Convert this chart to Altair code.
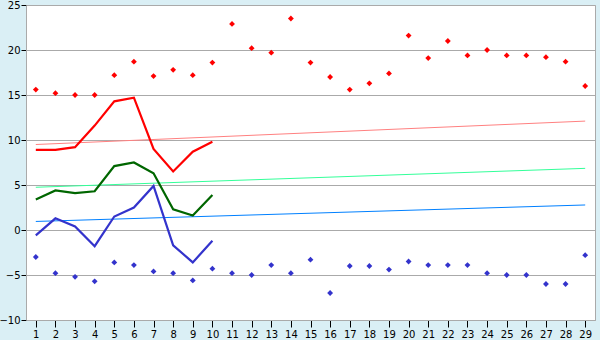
import altair as alt
import pandas as pd

days = list(range(1, 30))
tmax = [15.6, 15.2, 15.0, 15.0, 17.2, 18.7, 17.1, 17.8, 17.2, 18.6,
        22.9, 20.2, 19.7, 23.5, 18.6, 17.0, 15.6, 16.3, 17.4, 21.6,
        19.1, 21.0, 19.4, 20.0, 19.4, 19.4, 19.2, 18.7, 16.0]
tmin = [-3.0, -4.8, -5.2, -5.7, -3.6, -3.9, -4.6, -4.8, -5.6, -4.3,
        -4.8, -5.0, -3.9, -4.8, -3.3, -7.0, -4.0, -4.0, -4.4, -3.5,
        -3.9, -3.9, -3.9, -4.8, -5.0, -5.0, -6.0, -6.0, -2.8]
line_days = list(range(1, 11))
line_max = [8.9, 8.9, 9.2, 11.6, 14.3, 14.7, 9.0, 6.5, 8.7, 9.8]
line_mean = [3.4, 4.4, 4.1, 4.3, 7.1, 7.5, 6.3, 2.3, 1.6, 3.9]
line_min = [-0.6, 1.3, 0.4, -1.8, 1.5, 2.5, 4.9, -1.7, -3.6, -1.2]
trend_days = [1, 29]
trend_max = [9.5, 12.1]
trend_mean = [4.75, 6.85]
trend_min = [0.95, 2.78]
y_ticks = [-10, -5, 0, 5, 10, 15, 20, 25]

W, H = 569, 315
xs = alt.Scale(domain=[0.5, 29.5], nice=False, zero=False)
ys = alt.Scale(domain=[-10, 25], nice=False, zero=False)

xaxis = alt.Axis(values=days, title=None, grid=False, domainColor="#aaaaaa",
                 tickColor="#000000", tickSize=7, labelFontSize=10,
                 labelFont="DejaVu Sans", labelColor="#000000", labelPadding=2,
                 labelFlush=False, labelOverlap=False, labelBound=False)
yaxis = alt.Axis(values=y_ticks, title=None, grid=True,
                 gridColor="#aaaaaa", gridOpacity=1, domainColor="#aaaaaa",
                 tickColor="#000000", tickSize=5, labelFontSize=10,
                 labelFont="DejaVu Sans", labelColor="#000000", labelPadding=1,
                 labelOverlap=False, labelFlush=False)

pts = pd.DataFrame({"day": days, "tmax": tmax, "tmin": tmin})
lines = pd.DataFrame({"day": line_days, "max": line_max, "mean": line_mean, "min": line_min})
trend = pd.DataFrame({"day": trend_days, "max": trend_max, "mean": trend_mean, "min": trend_min})

def enc(col):
    return dict(x=alt.X("day:Q", scale=xs, axis=xaxis),
                y=alt.Y(f"{col}:Q", scale=ys, axis=yaxis))

def trend_layer(col, color):
    return alt.Chart(trend).mark_line(color=color, strokeWidth=1).encode(**enc(col))

def line_layer(col, color):
    return alt.Chart(lines).mark_line(color=color, strokeWidth=2.2).encode(**enc(col))

def pt_layer(col, color):
    return alt.Chart(pts).mark_point(shape="diamond", filled=True, size=34,
                                     color=color, opacity=1).encode(**enc(col))

chart = alt.layer(
    trend_layer("max", "#ff8080"),
    trend_layer("mean", "#33ff99"),
    trend_layer("min", "#0080ff"),
    line_layer("max", "#ff0000"),
    line_layer("mean", "#006600"),
    line_layer("min", "#3333cc"),
    pt_layer("tmax", "#ff0000"),
    pt_layer("tmin", "#3333cc"),
).properties(
    width=W, height=H, background="#daeff5",
    padding={"left": 26, "top": 5, "right": 5, "bottom": 20},
    autosize=alt.AutoSizeParams(type="none"),
).configure_view(fill="#ffffff", stroke="#aaaaaa", strokeWidth=1
).configure_axis(labelOverlap=False)

chart.save("out.html", embed_options={"renderer": "svg", "actions": False})
